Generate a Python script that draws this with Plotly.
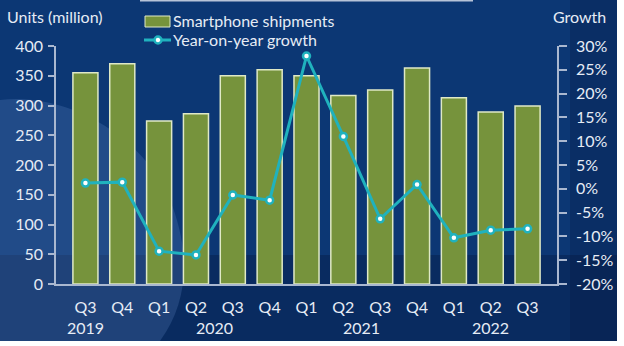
import plotly.graph_objects as go

# Quarterly smartphone shipments (million units) and year-on-year growth (%)
quarters = ["Q3", "Q4", "Q1", "Q2", "Q3", "Q4", "Q1", "Q2", "Q3", "Q4", "Q1", "Q2", "Q3"]
years = ["2019", "2019", "2020", "2020", "2020", "2020",
         "2021", "2021", "2021", "2021", "2022", "2022", "2022"]
shipments = [355, 370, 274, 286, 350, 360, 350, 317, 326, 363, 313, 289, 299]
yoy_growth = [1.2, 1.4, -13.1, -13.9, -1.3, -2.4, 27.9, 11.0, -6.3, 0.9, -10.3, -8.7, -8.4]

year_labels = ["2019", "2020", "2021", "2022"]
year_centers = [0, 3.5, 7.5, 11]

left_ticks = list(range(0, 401, 50))
right_ticks = list(range(-20, 31, 5))

series_names = ["Smartphone shipments", "Year-on-year growth"]

W, H = 624, 346
ML, MR, MT, MB = 56, 67, 46, 62
PW, PH = W - ML - MR, H - MT - MB


def px(x):
    return (x - ML) / PW


def py(y):
    return (H - MB - y) / PH


cats = [f"{q} {y}" for q, y in zip(quarters, years)]

TEXT = "#e6ecf5"
AXIS = "#aab8d0"
BAR = "#76933c"
BAR_EDGE = "#dfe9c6"
LINE = "#20b2be"
FONT = "Lato"

fig = go.Figure()

fig.add_trace(go.Bar(
    x=cats, y=shipments, name=series_names[0],
    marker=dict(color=BAR, line=dict(color=BAR_EDGE, width=1.5)),
    yaxis="y", showlegend=False,
))
fig.add_trace(go.Scatter(
    x=cats, y=yoy_growth, name=series_names[1],
    mode="lines+markers",
    line=dict(color=LINE, width=3),
    marker=dict(color="white", size=7, line=dict(color=LINE, width=2.5)),
    yaxis="y2", showlegend=False,
))

shapes = [
    # navy panel
    dict(type="rect", xref="paper", yref="paper", layer="below",
         x0=px(0), x1=px(617), y0=py(341), y1=py(0),
         fillcolor="#0c3774", line=dict(width=0)),
    # darker lower band
    dict(type="rect", xref="paper", yref="paper", layer="below",
         x0=px(0), x1=px(617), y0=py(341), y1=py(255),
         fillcolor="rgba(3,18,50,0.30)", line=dict(width=0)),
    # darker right edge
    dict(type="rect", xref="paper", yref="paper", layer="below",
         x0=px(570), x1=px(617), y0=py(341), y1=py(0),
         fillcolor="rgba(3,18,50,0.22)", line=dict(width=0)),
    # lighter swoosh at lower left
    dict(type="path", xref="paper", yref="paper", layer="below",
         path=(f"M {px(0)},{py(100)} "
               f"C {px(60)},{py(92)} {px(140)},{py(130)} {px(170)},{py(200)} "
               f"C {px(190)},{py(250)} {px(190)},{py(300)} {px(160)},{py(341)} "
               f"L {px(0)},{py(341)} Z"),
         fillcolor="rgba(110,150,210,0.22)", line=dict(width=0)),
    # thin strip at top edge
    dict(type="rect", xref="paper", yref="paper", layer="below",
         x0=px(140), x1=px(473), y0=py(1.5), y1=py(0),
         fillcolor="#b7c3d8", line=dict(width=0)),
    # legend key: bar swatch
    dict(type="rect", xref="paper", yref="paper", layer="above",
         x0=px(145), x1=px(170), y0=py(27), y1=py(16),
         fillcolor=BAR, line=dict(color=BAR_EDGE, width=1)),
    # legend key: line with marker
    dict(type="line", xref="paper", yref="paper", layer="above",
         x0=px(144), x1=px(171), y0=py(40), y1=py(40),
         line=dict(color=LINE, width=3)),
    dict(type="circle", xref="paper", yref="paper", layer="above",
         x0=px(154.5), x1=px(161.5), y0=py(43.5), y1=py(36.5),
         fillcolor="white", line=dict(color=LINE, width=2.5)),
]

annotations = [
    dict(text="Units (million)", xref="paper", yref="paper",
         x=px(5), y=py(16), xanchor="left", yanchor="middle",
         showarrow=False, font=dict(family=FONT, size=16, color=TEXT)),
    dict(text="Growth", xref="paper", yref="paper",
         x=px(608), y=py(16), xanchor="right", yanchor="middle",
         showarrow=False, font=dict(family=FONT, size=16, color=TEXT)),
]
for name, yy in zip(series_names, [21, 39]):
    annotations.append(dict(
        text=name, xref="paper", yref="paper", x=px(171), y=py(yy),
        xanchor="left", yanchor="middle", showarrow=False,
        font=dict(family=FONT, size=16, color=TEXT)))
for label, c in zip(year_labels, year_centers):
    annotations.append(dict(
        text=label, x=c, xref="x", yref="paper", y=py(327),
        xanchor="center", yanchor="middle", showarrow=False,
        font=dict(family=FONT, size=16, color=TEXT)))

fig.update_layout(
    width=W, height=H,
    margin=dict(l=ML, r=MR, t=MT, b=MB),
    paper_bgcolor="white",
    plot_bgcolor="rgba(0,0,0,0)",
    font=dict(family=FONT, size=16, color=TEXT),
    bargap=0.32,
    showlegend=False,
    xaxis=dict(
        type="category", categoryorder="array", categoryarray=cats,
        tickvals=cats, ticktext=quarters,
        showgrid=False, zeroline=False,
        showline=True, linecolor=AXIS, linewidth=1.5,
        ticks="", ticklabelstandoff=8,
        tickfont=dict(family=FONT, size=16, color=TEXT),
    ),
    yaxis=dict(
        range=[0, 400], tickvals=left_ticks,
        showgrid=False, zeroline=False,
        showline=True, linecolor=AXIS, linewidth=1.5,
        ticks="outside", ticklen=6, tickwidth=1.5, tickcolor=AXIS,
        ticklabelstandoff=2,
        tickfont=dict(family=FONT, size=16, color=TEXT),
    ),
    yaxis2=dict(
        range=[-20, 30], tickvals=right_ticks,
        ticktext=[f"{v}%" for v in right_ticks],
        overlaying="y", side="right",
        showgrid=False, zeroline=False,
        showline=True, linecolor=AXIS, linewidth=1.5,
        ticks="outside", ticklen=8, tickwidth=1.5, tickcolor=AXIS,
        ticklabelstandoff=6,
        tickfont=dict(family=FONT, size=16, color=TEXT),
    ),
    shapes=shapes,
    annotations=annotations,
)

fig.write_html("out.html")
